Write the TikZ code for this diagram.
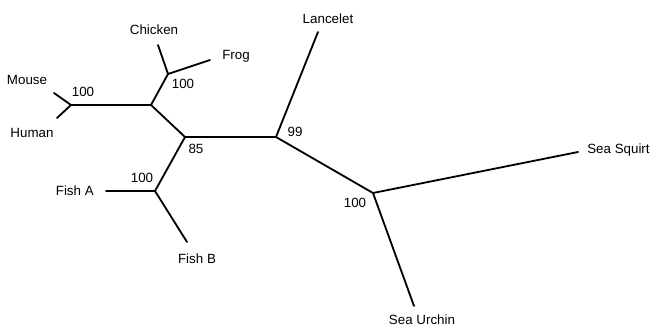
\documentclass[tikz,border=0pt]{standalone}
\usepackage{fontspec}
\setmainfont{Liberation Sans}
\usetikzlibrary{positioning}
\tikzset{
  branch/.style={line width=1.3pt, line cap=round},
  taxon/.style={inner sep=0pt, font=\fontsize{9.5}{11}\selectfont},
  support/.style={inner sep=0pt, font=\fontsize{9.5}{11}\selectfont}
}

\begin{document}
\begin{tikzpicture}[x=0.025cm, y=-0.025cm]
\useasboundingbox (0,0) rectangle (652,326);

% internal nodes
\coordinate (mh) at (71,105);
\coordinate (tet) at (151,105);
\coordinate (cf) at (168,74);
\coordinate (vert) at (185,137);
\coordinate (fish) at (155,191);
\coordinate (chord) at (276,137);
\coordinate (deut) at (373,193);

% leaf ends
\coordinate (mouseEnd) at (54,93);
\coordinate (humanEnd) at (57,118);
\coordinate (chickenEnd) at (158,45);
\coordinate (frogEnd) at (210,60);
\coordinate (fishAEnd) at (106,191);
\coordinate (fishBEnd) at (187,242);
\coordinate (lanceletEnd) at (318,32);
\coordinate (squirtEnd) at (578,152);
\coordinate (urchinEnd) at (414,306);

% branches
\draw[branch] (mouseEnd) -- (mh) -- (humanEnd);
\draw[branch] (mh) -- (tet) -- (cf);
\draw[branch] (chickenEnd) -- (cf) -- (frogEnd);
\draw[branch] (tet) -- (vert) -- (chord);
\draw[branch] (vert) -- (fish);
\draw[branch] (fishAEnd) -- (fish) -- (fishBEnd);
\draw[branch] (chord) -- (lanceletEnd);
\draw[branch] (chord) -- (deut);
\draw[branch] (squirtEnd) -- (deut) -- (urchinEnd);

% taxa
\node[taxon] (mouse) at (27,80) {Mouse};
\node[taxon] (human) at (32,133) {Human};
\node[taxon] (chicken) at (154,30) {Chicken};
\node[taxon, anchor=west] (frog) at (222,56) {Frog};
\node[taxon, anchor=east] (fishA) at (94,191) {Fish A};
\node[taxon] (fishB) at (197,259) {Fish B};
\node[taxon] (lancelet) at (328,19) {Lancelet};
\node[taxon, anchor=west] (squirt) at (587,150) {Sea Squirt};
\node[taxon] (urchin) at (422,320) {Sea Urchin};

% bootstrap values
\node[support] (bMH) at (83,92) {100};
\node[support] (bCF) at (183,84) {100};
\node[support] (bVert) at (196,149) {85};
\node[support] (bFish) at (142,178) {100};
\node[support] (bChord) at (295,132) {99};
\node[support] (bDeut) at (355,203) {100};
\end{tikzpicture}
\end{document}
